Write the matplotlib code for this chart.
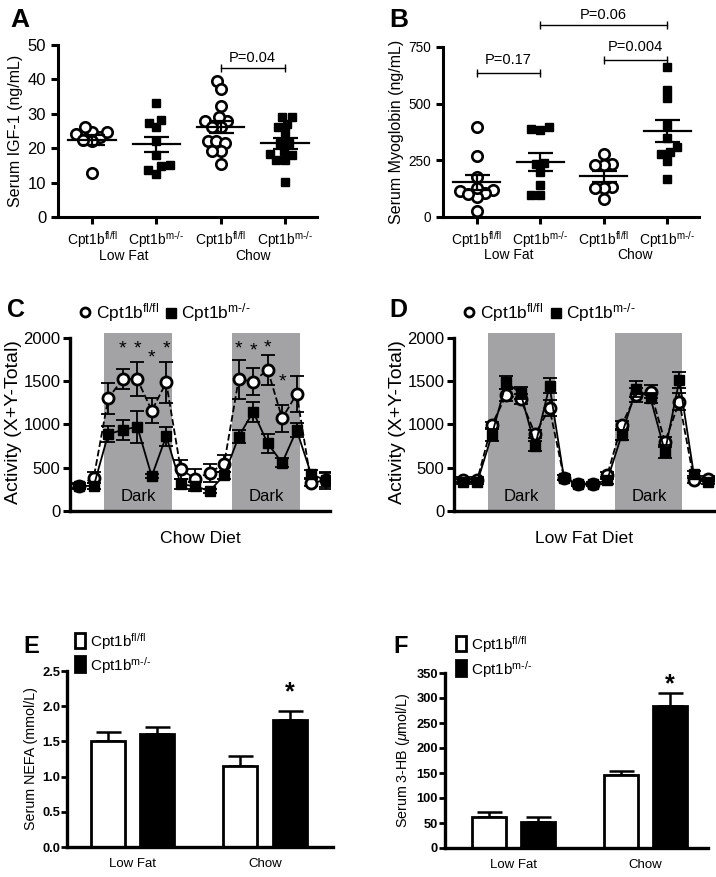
import numpy as np
import matplotlib
matplotlib.use('Agg')
import matplotlib.pyplot as plt
from matplotlib.lines import Line2D
from matplotlib.patches import Rectangle

plt.rcParams['font.family'] = ['Liberation Sans', 'DejaVu Sans']
plt.rcParams['mathtext.fontset'] = 'custom'
plt.rcParams['mathtext.rm'] = 'Liberation Sans'
plt.rcParams['mathtext.it'] = 'Liberation Sans:italic'
plt.rcParams['mathtext.bf'] = 'Liberation Sans:bold'

FL = r'Cpt1b$^{\text{fl/fl}}$'
KO = r'Cpt1b$^{\text{m-/-}}$'

# ---------------- data ----------------
groups = ['Low Fat', 'Chow']

# Panel A: serum IGF-1 (ng/mL)
igf_lf_fl = [24.6, 24.0, 26.1, 23.3, 24.7, 22.0, 22.5, 12.8]
igf_lf_ko = [33.1, 27.3, 28.2, 26.1, 22.0, 18.1, 14.7, 12.6, 13.7, 15.2]
igf_ch_fl = [39.4, 37.1, 32.3, 28.0, 28.0, 29.2, 26.3, 26.3, 22.0, 22.0, 21.5, 19.3, 19.3, 15.5]
igf_ch_ko = [29.2, 29.2, 26.3, 27.1, 24.6, 21.5, 21.5, 19.3, 18.1, 16.6, 16.6, 18.4, 10.3]

# Panel B: serum myoglobin (ng/mL)
myo_lf_fl = [395, 270, 175, 120, 105, 90, 115, 130, 28, 100]
myo_lf_ko = [387, 384, 395, 240, 200, 233, 142, 98, 98]
myo_ch_fl = [278, 234, 230, 230, 132, 127, 127, 80]
myo_ch_ko = [662, 562, 523, 406, 347, 310, 278, 288, 249, 167]

# Panel C: activity, chow diet
act_chow_fl = [290, 387, 1304, 1524, 1524, 1160, 1486, 480, 375, 441, 549, 1524, 1497, 1632, 1071, 1354, 325, 356]
act_chow_fl_err = [30, 60, 180, 116, 194, 144, 232, 108, 116, 100, 97, 224, 155, 174, 155, 209, 40, 96]
act_chow_ko = [290, 290, 890, 936, 975, 402, 866, 309, 286, 232, 414, 859, 1149, 781, 557, 936, 425, 356]
act_chow_ko_err = [20, 30, 93, 116, 185, 20, 109, 60, 50, 25, 40, 77, 116, 109, 50, 85, 46, 80]
chow_star_idx = [3, 4, 5, 6, 11, 12, 13, 14]
chow_star_y = [1872, 1872, 1768, 1872, 1872, 1845, 1884, 1497]

# Panel D: activity, low fat diet
act_lf_fl = [364, 364, 994, 1342, 1292, 890, 1188, 387, 317, 317, 414, 994, 1342, 1381, 801, 1265, 364, 375]
act_lf_fl_err = [30, 30, 40, 70, 60, 50, 90, 30, 20, 20, 40, 50, 80, 70, 60, 100, 40, 30]
act_lf_ko = [337, 337, 878, 1486, 1362, 750, 1447, 387, 309, 309, 356, 878, 1408, 1304, 685, 1517, 425, 337]
act_lf_ko_err = [30, 30, 70, 70, 70, 62, 85, 30, 20, 20, 40, 60, 90, 60, 75, 95, 40, 30]
dark_periods = [(1.73, 6.38), (10.57, 15.2)]

# Panel E: serum NEFA (mmol/L)
nefa_fl = [1.50, 1.15]
nefa_fl_err = [0.14, 0.14]
nefa_ko = [1.61, 1.81]
nefa_ko_err = [0.10, 0.12]

# Panel F: serum 3-HB (umol/L)
hb_fl = [63, 147]
hb_fl_err = [9, 8]
hb_ko = [53, 285]
hb_ko_err = [10, 25]

# ---------------- figure ----------------
W, H = 716, 877
fig = plt.figure(figsize=(W / 100, H / 100), dpi=100)


def axes_px(l, r, t, b):
    return fig.add_axes([l / W, 1 - b / H, (r - l) / W, (b - t) / H])


def fy(py):
    return 1 - py / H


def swarm(ax, vals, d_px):
    vals = np.asarray(vals, float)
    ys = ax.transData.transform(np.column_stack([np.zeros(len(vals)), vals]))[:, 1]
    order = np.argsort(ys)
    placed = []
    offs = np.zeros(len(vals))
    for i in order:
        y = ys[i]
        forb = []
        for (px, py) in placed:
            dy = abs(py - y)
            if dy < d_px:
                w = np.sqrt(d_px ** 2 - dy ** 2)
                forb.append((px - w, px + w))
        cands = [0.0] + [a for a, b in forb] + [b for a, b in forb]
        cands = sorted(cands, key=lambda c: (abs(c), c))
        for c in cands:
            if all(not (a + 1e-6 < c < b - 1e-6) for a, b in forb):
                offs[i] = c
                break
        placed.append((offs[i], y))
    xr = ax.get_xlim()
    ux = (xr[1] - xr[0]) / ax.bbox.width
    return offs * ux


SPW = 2.2


def style_scatter_axes(ax):
    for s in ['top', 'right']:
        ax.spines[s].set_visible(False)
    for s in ['left', 'bottom']:
        ax.spines[s].set_linewidth(SPW)
    ax.tick_params(axis='both', width=SPW, length=5, direction='out')


def dot_panel(ax, data, ylim, yticks, ylabel, tick_fs, ylabel_fs):
    ax.set_xlim(-0.53, 3.5)
    ax.set_ylim(*ylim)
    style_scatter_axes(ax)
    markers = ['o', 's', 'o', 's']
    for k, vals in enumerate(data):
        offs = swarm(ax, vals, 8.8)
        if markers[k] == 'o':
            ax.plot(k + offs, vals, 'o', ms=7.5, mfc='white', mec='black', mew=1.9, clip_on=False, zorder=3)
        else:
            ax.plot(k + offs, vals, 's', ms=6.3, mfc='black', mec='black', clip_on=False, zorder=3)
        m = np.mean(vals)
        se = np.std(vals, ddof=1) / np.sqrt(len(vals))
        ax.plot([k - 0.37, k + 0.37], [m, m], color='black', lw=1.6, zorder=4)
        ax.errorbar([k], [m], yerr=[se], color='black', lw=1.6, capsize=9, capthick=1.6, zorder=4)
    ax.set_yticks(yticks)
    ax.set_yticklabels([str(t) for t in yticks], fontsize=tick_fs)
    ax.set_xticks([0, 1, 2, 3])
    ax.set_xticklabels([FL, KO, FL, KO], fontsize=10)
    ax.set_ylabel(ylabel, fontsize=ylabel_fs, labelpad=3)
    for g, x in zip(groups, [0.5, 2.5]):
        ax.text(x, -0.225, g, transform=ax.get_xaxis_transform(), ha='center', va='center', fontsize=10)


def bracket(ax, x1, x2, y, label, ty):
    ax.plot([x1, x2], [y, y], color='black', lw=1.0, clip_on=False)
    ax.plot([x1, x2], [y, y], ls='none', marker='|', ms=6, mew=1.0, color='black', clip_on=False)
    ax.text((x1 + x2) / 2, ty, label, ha='center', va='center', fontsize=10.5, clip_on=False)


# Panel A
axA = axes_px(58, 317, 45, 217)
dot_panel(axA, [igf_lf_fl, igf_lf_ko, igf_ch_fl, igf_ch_ko], (0, 50), [0, 10, 20, 30, 40, 50],
          'Serum IGF-1 (ng/mL)', 12, 11.5)
bracket(axA, 2, 3, 43.2, 'P=0.04', 46.3)

# Panel B
axB = axes_px(443, 699, 47, 217)
dot_panel(axB, [myo_lf_fl, myo_lf_ko, myo_ch_fl, myo_ch_ko], (0, 750), [0, 250, 500, 750],
          'Serum Myoglobin (ng/mL)', 9.8, 11.5)
bracket(axB, 0, 1, 635, 'P=0.17', 692)
bracket(axB, 2, 3, 693, 'P=0.004', 750)
bracket(axB, 1, 3, 845, 'P=0.06', 893)


# Panels C and D
def activity_panel(ax, fl, fl_err, ko, ko_err, xlim, xlabel):
    ax.set_xlim(*xlim)
    ax.set_ylim(0, 2060)
    for s in ['top', 'right']:
        ax.spines[s].set_visible(False)
    ax.spines['left'].set_bounds(0, 2000)
    for s in ['left', 'bottom']:
        ax.spines[s].set_linewidth(2.4)
    ax.tick_params(axis='y', width=2.2, length=5, direction='out', labelsize=12, pad=2)
    ax.set_xticks([])
    ax.set_yticks([0, 500, 1000, 1500, 2000])
    for a, b in dark_periods:
        ax.axvspan(a, b, ymin=0, ymax=1, color='#a3a3a5', lw=0, zorder=0)
        ax.text((a + b) / 2, 162, 'Dark', ha='center', va='center', fontsize=12, zorder=1)
    x = np.arange(len(fl))
    ax.errorbar(x, fl, yerr=fl_err, fmt='none', ecolor='black', elinewidth=1.3, capsize=5, capthick=1.3, zorder=2)
    ax.plot(x, fl, '--', color='black', lw=1.3, zorder=2)
    ax.plot(x, fl, 'o', ms=8, mfc='white', mec='black', mew=2.0, zorder=3)
    ax.errorbar(x, ko, yerr=ko_err, fmt='none', ecolor='black', elinewidth=1.3, capsize=5, capthick=1.3, zorder=4)
    ax.plot(x, ko, '-', color='black', lw=1.3, zorder=4)
    ax.plot(x, ko, 's', ms=7, mfc='black', mec='black', zorder=5)
    ax.set_ylabel('Activity (X+Y-Total)', fontsize=14, labelpad=1)
    ax.text(0.5, -0.156, xlabel, transform=ax.transAxes, ha='center', va='center', fontsize=12.6)


axC = axes_px(70, 330, 332.8, 511)
activity_panel(axC, act_chow_fl, act_chow_fl_err, act_chow_ko, act_chow_ko_err, (-0.64, 17.3), 'Chow Diet')
for i, y in zip(chow_star_idx, chow_star_y):
    axC.text(i, y, '*', ha='center', va='center', fontsize=14, zorder=6)

axD = axes_px(454, 714, 332.8, 511)
activity_panel(axD, act_lf_fl, act_lf_fl_err, act_lf_ko, act_lf_ko_err, (-0.62, 17.4), 'Low Fat Diet')


def top_legend(xc, xs, xt1, xt2, yb):
    fig.add_artist(Line2D([xc / W], [fy(yb - 6)], transform=fig.transFigure, marker='o', ms=6.5,
                          mfc='white', mec='black', mew=2.0, ls='none'))
    fig.text(xt1 / W, fy(yb), FL, fontsize=12.5, va='baseline', ha='left')
    fig.add_artist(Line2D([xs / W], [fy(yb - 5)], transform=fig.transFigure, marker='s', ms=6.5,
                          mfc='black', mec='black', ls='none'))
    fig.text(xt2 / W, fy(yb), KO, fontsize=12.5, va='baseline', ha='left')


top_legend(85, 171, 96, 181, 318)
top_legend(469, 556, 480, 566, 318)


# Panels E and F
def bar_panel(ax, fl, fl_err, ko, ko_err, xlim, ylim, yticks, fmt, ylabel, star_y):
    ax.set_xlim(*xlim)
    ax.set_ylim(*ylim)
    for s in ['top', 'right']:
        ax.spines[s].set_visible(False)
    for s in ['left', 'bottom']:
        ax.spines[s].set_linewidth(2.4)
    x = np.arange(len(groups))
    off, w = 0.186, 0.257
    ax.bar(x - off, fl, w, color='white', edgecolor='black', lw=2.0, zorder=2)
    ax.bar(x + off, ko, w, color='black', edgecolor='black', lw=2.0, zorder=2)
    ax.errorbar(x - off, fl, yerr=[np.zeros(len(fl)), fl_err], fmt='none', ecolor='black',
                elinewidth=1.8, capsize=9, capthick=1.8, zorder=1)
    ax.errorbar(x + off, ko, yerr=[np.zeros(len(ko)), ko_err], fmt='none', ecolor='black',
                elinewidth=1.8, capsize=9, capthick=1.8, zorder=1)
    ax.set_xticks(x)
    ax.set_xticklabels(groups, fontsize=9.5)
    ax.tick_params(axis='x', length=0, pad=8)
    ax.set_yticks(yticks)
    ax.set_yticklabels([fmt.format(t) for t in yticks], fontsize=9.3, fontweight='bold')
    ax.tick_params(axis='y', width=2.0, length=4, direction='out', pad=1)
    ax.set_ylabel(ylabel, fontsize=10.3, labelpad=3)
    ax.text(1 + off, star_y, '*', ha='center', va='center', fontsize=18, fontweight='bold')


axE = axes_px(67, 333, 671, 847)
bar_panel(axE, nefa_fl, nefa_fl_err, nefa_ko, nefa_ko_err, (-0.494, 1.513), (0, 2.5),
          [0.0, 0.5, 1.0, 1.5, 2.0, 2.5], '{:.1f}', 'Serum NEFA (mmol/L)', 2.2)

axF = axes_px(445, 708, 673, 848)
bar_panel(axF, hb_fl, hb_fl_err, hb_ko, hb_ko_err, (-0.519, 1.473), (0, 350),
          [0, 50, 100, 150, 200, 250, 300, 350], '{:d}', r'Serum 3-HB ($\mu$mol/L)', 327)


def bar_legend(x0, y1, y2):
    fig.add_artist(Rectangle((x0 / W, fy(y1 + 15)), 10 / W, 15 / H, transform=fig.transFigure,
                             facecolor='white', edgecolor='black', lw=2.0))
    fig.text((x0 + 15) / W, fy(y1 + 14), FL, fontsize=11, va='baseline')
    fig.add_artist(Rectangle((x0 / W, fy(y2 + 16)), 10 / W, 16 / H, transform=fig.transFigure,
                             facecolor='black', edgecolor='black', lw=2.0))
    fig.text((x0 + 15) / W, fy(y2 + 15), KO, fontsize=11, va='baseline')


bar_legend(75, 633, 656)
bar_legend(456, 636, 660)

# panel letters
for lab, x, yb, fs in [('A', 10, 27, 19), ('B', 389, 27, 19), ('C', 7, 317, 18),
                       ('D', 389, 317, 18), ('E', 23, 653, 17), ('F', 393, 653, 17)]:
    fig.text(x / W, fy(yb), lab, fontsize=fs, fontweight='bold', va='baseline', ha='left')

fig.savefig('out.png', dpi=100)
